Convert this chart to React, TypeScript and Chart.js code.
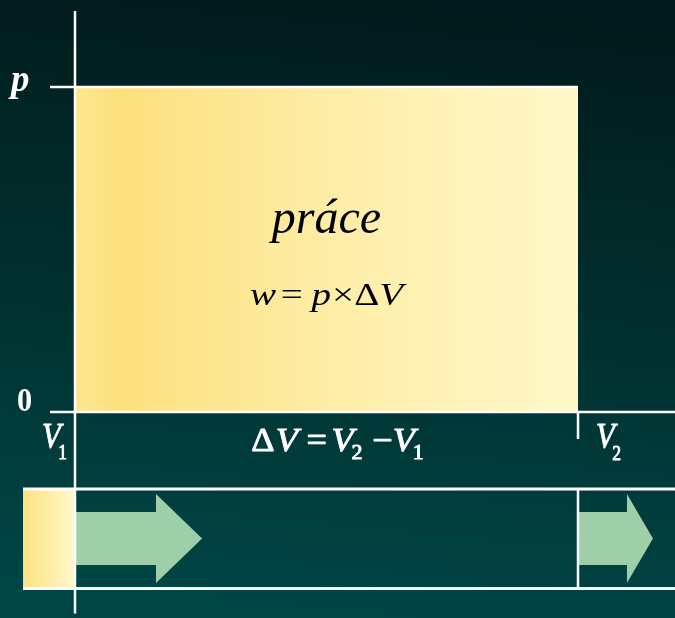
import React, { useEffect, useRef } from "react";
import { Chart, registerables } from "chart.js";

Chart.register(...registerables);

const W = 675;
const H = 618;

// Volumes V1, V2 and pressures 0, p (arbitrary units)
const volumes = [1, 4];
const pressures = [0, 1];

// visible range of the two axes
const xRange = [0.5527, 4.5785];
const yRange = [-0.6338, 1.2677];

// axis extents
const yAxisSpan = [-0.62, 1.234];
const xAxisStart = 0.851;
const pLineStart = 0.851;
const v2TickEnd = -0.083;

// piston box under the axis
const boxY = [-0.237, -0.543];
const boxLeft = 0.69;

// arrows (tail, neck, tip per arrow)
const arrowTail = [1, 4];
const arrowNeck = [1.483, 4.292];
const arrowTip = [1.758, 4.447];
const arrowBody = [-0.308, -0.471];
const arrowHead = [-0.252, -0.526];

type Run = { t: string; f: string; dx?: number; dy?: number };

const SERIF = '"Liberation Serif", "Times New Roman", serif';

function drawRuns(
  c: CanvasRenderingContext2D,
  runs: Run[],
  x: number,
  y: number,
  align: "left" | "center",
  sx = 1,
  color = "#fff",
  stroke = 0
) {
  c.save();
  c.fillStyle = color;
  c.strokeStyle = color;
  c.lineWidth = stroke;
  c.lineJoin = "round";
  c.textBaseline = "alphabetic";
  c.textAlign = "left";
  let total = 0;
  const widths = runs.map((r) => {
    c.font = r.f;
    const w = c.measureText(r.t).width;
    total += w + (r.dx || 0);
    return w;
  });
  c.translate(x - (align === "center" ? (total * sx) / 2 : 0), y);
  c.scale(sx, 1);
  let cx = 0;
  runs.forEach((r, i) => {
    cx += r.dx || 0;
    c.font = r.f;
    c.fillText(r.t, cx, r.dy || 0);
    if (stroke > 0) c.strokeText(r.t, cx, r.dy || 0);
    cx += widths[i];
  });
  c.restore();
}

const backgroundPlugin = {
  id: "bg",
  beforeDraw(chart: any) {
    const c = chart.ctx as CanvasRenderingContext2D;
    const g = c.createLinearGradient(400, 0, 340, H);
    g.addColorStop(0, "#011a1b");
    g.addColorStop(0.5, "#01302f");
    g.addColorStop(1, "#004646");
    c.save();
    c.fillStyle = g;
    c.fillRect(0, 0, chart.width, chart.height);
    c.restore();
  },
};

const textPlugin = {
  id: "labels",
  afterDatasetsDraw(chart: any) {
    const c = chart.ctx as CanvasRenderingContext2D;
    const X = (v: number) => chart.scales.x.getPixelForValue(v);
    const Y = (v: number) => chart.scales.y.getPixelForValue(v);
    const [V1, V2] = volumes;
    const [p0, p] = pressures;
    const mid = X((V1 + V2) / 2);
    const it = (s: number) => `italic ${s}px ${SERIF}`;
    const rg = (s: number) => `${s}px ${SERIF}`;
    const bi = (s: number) => `italic bold ${s}px ${SERIF}`;
    const bd = (s: number) => `bold ${s}px ${SERIF}`;

    drawRuns(c, [{ t: "p", f: bi(37) }], X(V1) - 64, Y(p) + 4, "left");
    drawRuns(c, [{ t: "0", f: bd(33) }], X(V1) - 58, Y(p0) - 1, "left", 0.92);
    drawRuns(
      c,
      [
        { t: "V", f: it(35) },
        { t: "1", f: rg(20), dx: -3, dy: 11 },
      ],
      X(V1) - 33,
      Y(p0) + 36,
      "left",
      0.88,
      "#fff",
      0.9
    );
    drawRuns(
      c,
      [
        { t: "V", f: it(35) },
        { t: "2", f: rg(20), dx: -3, dy: 12 },
      ],
      X(V2) + 18,
      Y(p0) + 36,
      "left",
      0.88,
      "#fff",
      0.9
    );
    drawRuns(
      c,
      [
        { t: "Δ", f: rg(33) },
        { t: "V", f: it(33), dx: 1 },
        { t: "=", f: rg(33), dx: 8 },
        { t: "V", f: it(33), dx: 4 },
        { t: "2", f: rg(20), dx: -2, dy: 8 },
        { t: "\u2212", f: rg(33), dx: 9 },
        { t: "V", f: it(33), dx: 0 },
        { t: "1", f: rg(20), dx: -2, dy: 8 },
      ],
      mid + 11,
      Y(p0) + 39,
      "center",
      1.1,
      "#fff",
      0.9
    );
    drawRuns(c, [{ t: "práce", f: it(48) }], mid, Y(p0) - 179, "center", 1, "#000");
    drawRuns(
      c,
      [
        { t: "w", f: it(32) },
        { t: "=", f: rg(32), dx: 4 },
        { t: "p", f: it(32), dx: 7 },
        { t: "×", f: rg(32), dx: 1 },
        { t: "Δ", f: rg(32) },
        { t: "V", f: it(32) },
      ],
      mid,
      Y(p0) - 107,
      "center",
      1.22,
      "#000"
    );
  },
};

function line(points: { x: number; y: number }[], width = 2.5) {
  return {
    data: points,
    borderColor: "#ffffff",
    borderWidth: width,
    pointRadius: 0,
    fill: false,
    order: 0,
  };
}

function shape(points: { x: number; y: number }[], bg: any) {
  return {
    data: [...points, points[0]],
    borderColor: "rgba(0,0,0,0)",
    borderWidth: 0,
    pointRadius: 0,
    fill: "shape",
    backgroundColor: bg,
    order: 5,
  };
}

function hGradient(from: number, to: number, stops: [number, string][]) {
  return (ctx: any) => {
    const chart = ctx.chart;
    if (!chart.chartArea) return stops[0][1];
    const x0 = chart.scales.x.getPixelForValue(from);
    const x1 = chart.scales.x.getPixelForValue(to);
    const g = chart.ctx.createLinearGradient(x0, 0, x1, 0);
    stops.forEach(([o, col]) => g.addColorStop(o, col));
    return g;
  };
}

function arrow(i: number) {
  const x0 = arrowTail[i];
  const xn = arrowNeck[i];
  const xt = arrowTip[i];
  const [bt, bb] = arrowBody;
  const [ht, hb] = arrowHead;
  return [
    { x: x0, y: bt },
    { x: xn, y: bt },
    { x: xn, y: ht },
    { x: xt, y: (bt + bb) / 2 },
    { x: xn, y: hb },
    { x: xn, y: bb },
    { x: x0, y: bb },
  ];
}

export default function App() {
  const ref = useRef<HTMLCanvasElement | null>(null);

  useEffect(() => {
    if (!ref.current) return;
    const [V1, V2] = volumes;
    const [p0, p] = pressures;
    const chart = new Chart(ref.current, {
      type: "line",
      data: {
        datasets: [
          // white axes and outlines
          line([
            { x: V1, y: yAxisSpan[0] },
            { x: V1, y: yAxisSpan[1] },
          ]),
          line([
            { x: pLineStart, y: p },
            { x: V2, y: p },
          ]),
          line([
            { x: xAxisStart, y: p0 },
            { x: xRange[1] + 0.1, y: p0 },
          ]),
          line([
            { x: V2, y: p0 },
            { x: V2, y: v2TickEnd },
          ]),
          line(
            [
              { x: boxLeft, y: boxY[0] },
              { x: xRange[1] + 0.1, y: boxY[0] },
            ],
            3
          ),
          line(
            [
              { x: boxLeft, y: boxY[1] },
              { x: xRange[1] + 0.1, y: boxY[1] },
            ],
            3
          ),
          line([
            { x: V2, y: boxY[0] },
            { x: V2, y: boxY[1] },
          ]),
          // work area p x dV
          shape(
            [
              { x: V1, y: p0 },
              { x: V1, y: p },
              { x: V2, y: p },
              { x: V2, y: p0 },
            ],
            hGradient(V1, V2, [
              [0, "#fde68e"],
              [0.09, "#fce07c"],
              [0.5, "#feeda6"],
              [1, "#fff8c9"],
            ])
          ),
          // piston block
          shape(
            [
              { x: boxLeft, y: boxY[0] },
              { x: V1, y: boxY[0] },
              { x: V1, y: boxY[1] },
              { x: boxLeft, y: boxY[1] },
            ],
            hGradient(boxLeft, V1, [
              [0, "#fde27e"],
              [1, "#fff8cc"],
            ])
          ),
          shape(arrow(0), "#9fcfa9"),
          shape(arrow(1), "#9fcfa9"),
        ] as any,
      },
      options: {
        animation: false,
        responsive: false,
        maintainAspectRatio: false,
        layout: { padding: 0, autoPadding: false } as any,
        events: [],
        scales: {
          x: { type: "linear", min: xRange[0], max: xRange[1], display: false },
          y: { type: "linear", min: yRange[0], max: yRange[1], display: false },
        },
        plugins: {
          legend: { display: false },
          tooltip: { enabled: false },
        },
        elements: { line: { tension: 0 } },
      } as any,
      plugins: [backgroundPlugin, textPlugin],
    });
    return () => chart.destroy();
  }, []);

  return (
    <div style={{ position: "absolute", left: 0, top: 0, width: W, height: H }}>
      <canvas ref={ref} width={W} height={H} style={{ display: "block", width: W, height: H }} />
    </div>
  );
}
